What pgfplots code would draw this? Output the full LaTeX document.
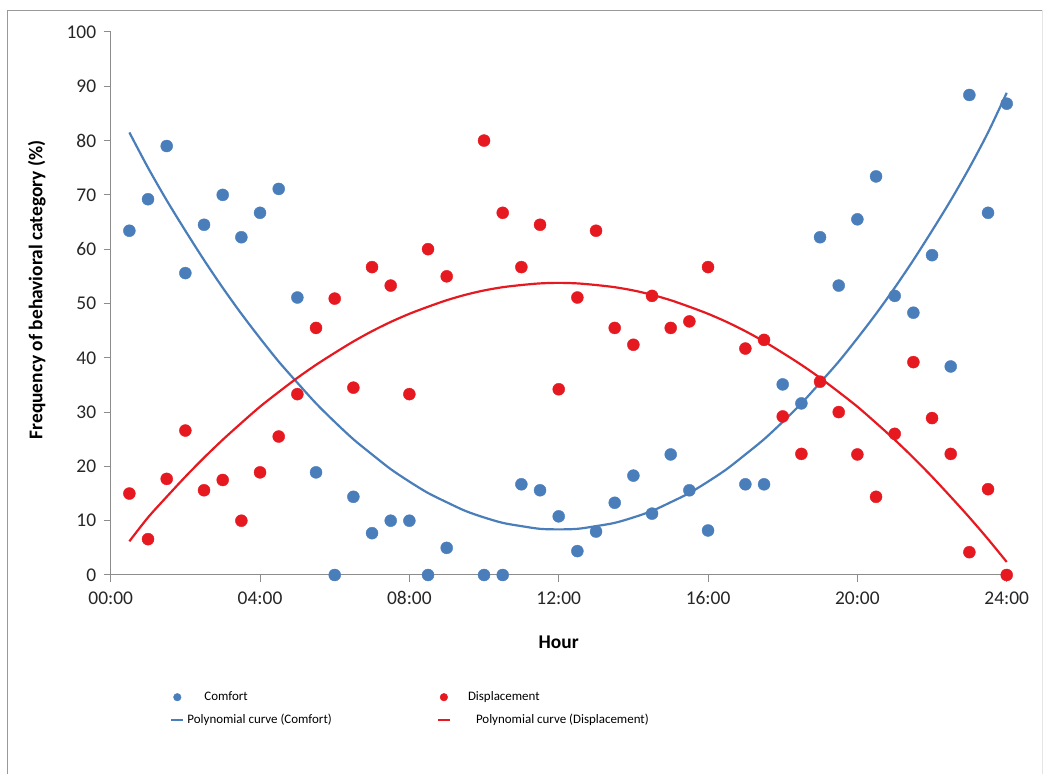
\documentclass[border=0pt]{standalone}
\usepackage{pgfplots}
\pgfplotsset{compat=1.18}
\usepackage{fontspec}
\setmainfont{Carlito}
\definecolor{cblue}{RGB}{74,126,187}
\definecolor{cred}{RGB}{230,25,32}
\definecolor{axgray}{RGB}{140,140,140}
\pgfplotsset{
  dotlegend/.style={legend image code/.code={\draw[##1, mark size=3.8bp] plot[only marks] coordinates {(6bp,0bp)};}},
  linelegend/.style={legend image code/.code={\draw[##1] (0bp,0bp) -- (12bp,0bp);}},
}

\pgfplotstableread{
h v
0.5 63.4
1 69.2
1.5 79.0
2 55.6
2.5 64.5
3 70.0
3.5 62.2
4 66.7
4.5 71.1
5 51.1
5.5 18.9
6 0
6.5 14.4
7 7.7
7.5 10.0
8 10.0
8.5 0
9 5.0
10 0
10.5 0
11 16.7
11.5 15.6
12 10.8
12.5 4.4
13 8.0
13.5 13.3
14 18.3
14.5 11.3
15 22.2
15.5 15.6
16 8.2
17 16.7
17.5 16.7
18 35.1
18.5 31.6
19 62.2
19.5 53.3
20 65.5
20.5 73.4
21 51.4
21.5 48.3
22 58.9
22.5 38.4
23 88.4
23.5 66.7
24 86.8
}\comfort

\pgfplotstableread{
h v
0.5 15.0
1 6.6
1.5 17.7
2 26.6
2.5 15.6
3 17.5
3.5 10.0
4 18.9
4.5 25.5
5 33.3
5.5 45.5
6 50.9
6.5 34.5
7 56.7
7.5 53.3
8 33.3
8.5 60.0
9 55.0
10 80.0
10.5 66.7
11 56.7
11.5 64.5
12 34.2
12.5 51.1
13 63.4
13.5 45.5
14 42.4
14.5 51.4
15 45.5
15.5 46.7
16 56.7
17 41.7
17.5 43.3
18 29.2
18.5 22.3
19 35.6
19.5 30.0
20 22.2
20.5 14.4
21 26.0
21.5 39.2
22 28.9
22.5 22.3
23 4.2
23.5 15.8
24 0
}\displacement

\pgfplotstableread{
h v
0.5 81.5
1 75.0
1.5 69.0
2 63.4
2.5 58.0
3 52.9
3.5 48.1
4 43.6
4.5 39.3
5 35.4
5.5 31.6
6 28.2
6.5 25.0
7 22.2
7.5 19.5
8 17.2
8.5 15.1
9 13.4
9.5 11.8
10 10.6
10.5 9.6
11 9.0
11.5 8.5
12 8.4
12.5 8.5
13 9.0
13.5 9.6
14 10.6
14.5 11.8
15 13.4
15.5 15.1
16 17.2
16.5 19.5
17 22.2
17.5 25.0
18 28.2
18.5 31.6
19 35.4
19.5 39.3
20 43.6
20.5 48.1
21 52.9
21.5 58.0
22 63.4
22.5 69.0
23 75.0
23.5 81.5
24 88.8
}\comfortfit

\pgfplotstableread{
h v
0.5 6.2
1 10.6
1.5 14.4
2 18.1
2.5 21.6
3 24.9
3.5 28.0
4 31.0
4.5 33.7
5 36.3
5.5 38.7
6 40.9
6.5 43.0
7 44.9
7.5 46.6
8 48.1
8.5 49.4
9 50.6
9.5 51.6
10 52.4
10.5 53.0
11 53.4
11.5 53.7
12 53.8
12.5 53.7
13 53.4
13.5 53.0
14 52.4
14.5 51.6
15 50.6
15.5 49.4
16 48.1
16.5 46.6
17 44.9
17.5 43.0
18 40.9
18.5 38.7
19 36.3
19.5 33.7
20 31.0
20.5 28.0
21 24.9
21.5 21.6
22 18.1
22.5 14.4
23 10.6
23.5 6.6
24 2.4
}\displacementfit

\begin{document}
\begin{tikzpicture}[x=1bp,y=1bp]
\useasboundingbox (0,0) rectangle (1044,774);
\draw[gray!80, line width=1.2bp] (7.5,-5) -- (7.5,763.5) -- (1042,763.5);
\draw[gray!20, line width=1bp] (1042,763.5) -- (1042,-5);
\begin{axis}[
  at={(110.7bp,199bp)}, anchor=south west,
  scale only axis, width=896bp, height=543bp,
  xmin=0, xmax=24, ymin=0, ymax=100,
  clip=false,
  axis x line*=bottom, axis y line*=left,
  axis line style={draw=axgray, line width=1bp, -},
  tick style={draw=axgray, line width=1bp},
  tick align=outside, major tick length=7bp,
  xtick={0,4,8,12,16,20,24},
  xticklabels={00:00,04:00,08:00,12:00,16:00,20:00,24:00},
  ytick={0,10,...,100},
  /pgf/number format/assume math mode=true,
  ticklabel style={font=\fontsize{19.5}{23}\selectfont, text=black!85},
  xticklabel style={yshift=-6bp},
  yticklabel style={xshift=-4bp},
  xlabel={Hour}, ylabel={Frequency of behavioral category (\%)},
  label style={font=\fontsize{19.5}{23}\selectfont\bfseries},
  xlabel style={at={(axis description cs:0.5,-0.1234)}, anchor=center},
  ylabel style={at={(axis description cs:-0.0826,0.525)}, anchor=center},
  legend columns=2,
  legend cell align=left,
  legend style={at={(axis description cs:0.0662,-0.2035)}, anchor=north west,
    draw=none, fill=none, inner sep=0pt, row sep=0pt,
    font=\fontsize{13}{15}\selectfont,
    nodes={inner xsep=0pt, inner ysep=5bp, text height=10bp, text depth=3bp},
    /tikz/column 2/.style={column sep=105bp}},
]
\addplot[only marks, mark=*, mark size=6bp, color=cblue, dotlegend]
  table[x=h, y=v] {\comfort};
\addlegendentry{\hspace{20bp}Comfort}
\addplot[only marks, mark=*, mark size=6bp, color=cred, dotlegend]
  table[x=h, y=v] {\displacement};
\addlegendentry{\hspace{17bp}Displacement}
\addplot[smooth, no marks, color=cblue, line width=2.2bp, linelegend]
  table[x=h, y=v] {\comfortfit};
\addlegendentry{\hspace{3bp}Polynomial curve (Comfort)}
\addplot[smooth, no marks, color=cred, line width=2.2bp, linelegend]
  table[x=h, y=v] {\displacementfit};
\addlegendentry{\hspace{25bp}Polynomial curve (Displacement)}
\end{axis}
\end{tikzpicture}
\end{document}
